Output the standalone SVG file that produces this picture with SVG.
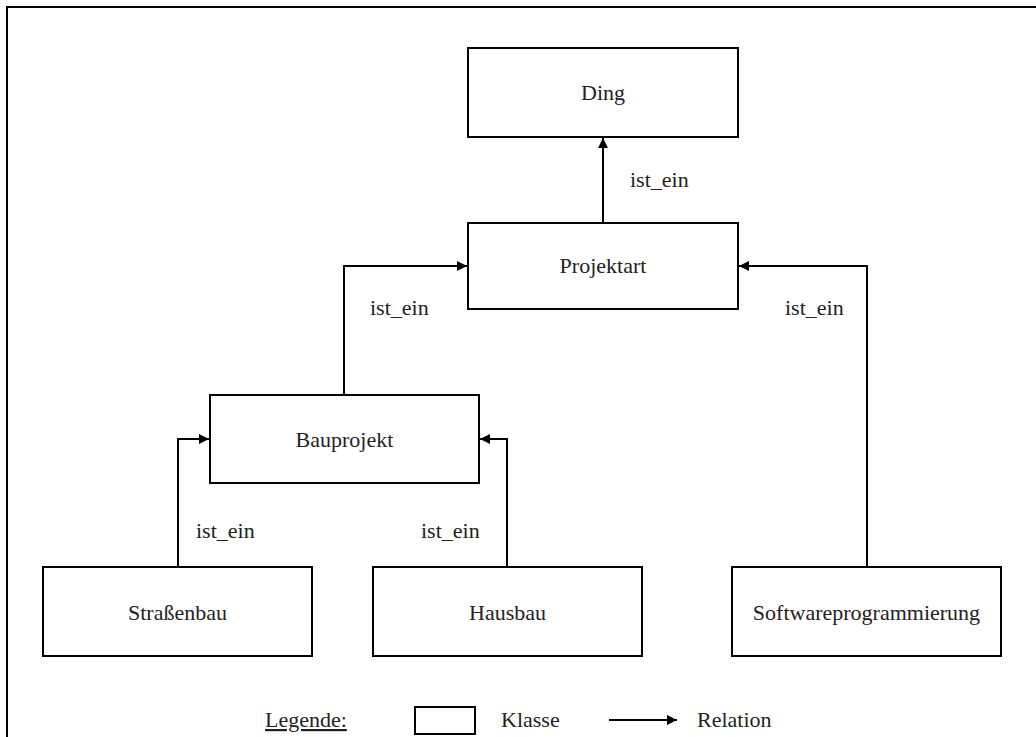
<svg xmlns="http://www.w3.org/2000/svg" width="1036" height="737" viewBox="0 0 1036 737">
<style>
.box{fill:#fff;stroke:#000;stroke-width:2}
.t{font-family:"Liberation Serif","Times New Roman",serif;font-size:22px;fill:#222}
.c{text-anchor:middle}
.ln{fill:none;stroke:#000;stroke-width:2}
</style>
<defs>
<marker id="ah" viewBox="0 0 10 10" refX="10" refY="5" markerWidth="12" markerHeight="10" markerUnits="userSpaceOnUse" orient="auto">
<path d="M0,0 L10,5 L0,10 z" fill="#000"/>
</marker>
</defs>
<rect width="1036" height="737" fill="#fff"/>
<path d="M7,737 V7 H1036" fill="none" stroke="#000" stroke-width="2"/>
<g id="connectors">
<path class="ln" d="M603,223 V138" marker-end="url(#ah)"/>
<path class="ln" d="M344,395 V266 H467" marker-end="url(#ah)"/>
<path class="ln" d="M867,567 V266 H739" marker-end="url(#ah)"/>
<path class="ln" d="M178,567 V439 H209" marker-end="url(#ah)"/>
<path class="ln" d="M507,567 V439 H480" marker-end="url(#ah)"/>
<text class="t" x="630" y="187">ist_ein</text>
<text class="t" x="370" y="315">ist_ein</text>
<text class="t" x="785" y="315">ist_ein</text>
<text class="t" x="196" y="538">ist_ein</text>
<text class="t" x="421" y="538">ist_ein</text>
</g>
<g id="ding"><rect class="box" x="468" y="48" width="270" height="89"/><text class="t c" x="603" y="100">Ding</text></g>
<g id="projektart"><rect class="box" x="468" y="223" width="270" height="86"/><text class="t c" x="603" y="273">Projektart</text></g>
<g id="bauprojekt"><rect class="box" x="210" y="395" width="269" height="88"/><text class="t c" x="344.5" y="447">Bauprojekt</text></g>
<g id="strassenbau"><rect class="box" x="43" y="567" width="269" height="89"/><text class="t c" x="177.5" y="620">Straßenbau</text></g>
<g id="hausbau"><rect class="box" x="373" y="567" width="269" height="89"/><text class="t c" x="507.5" y="620">Hausbau</text></g>
<g id="softwareprogrammierung"><rect class="box" x="732" y="567" width="269" height="89"/><text class="t c" x="866.5" y="620">Softwareprogrammierung</text></g>
<g id="legende">
<text class="t" x="265" y="727" text-decoration="underline">Legende:</text>
<rect class="box" x="415" y="707" width="60" height="27"/>
<text class="t" x="501" y="727">Klasse</text>
<path class="ln" d="M609,720 H677" marker-end="url(#ah)"/>
<text class="t" x="697" y="727">Relation</text>
</g>
</svg>
